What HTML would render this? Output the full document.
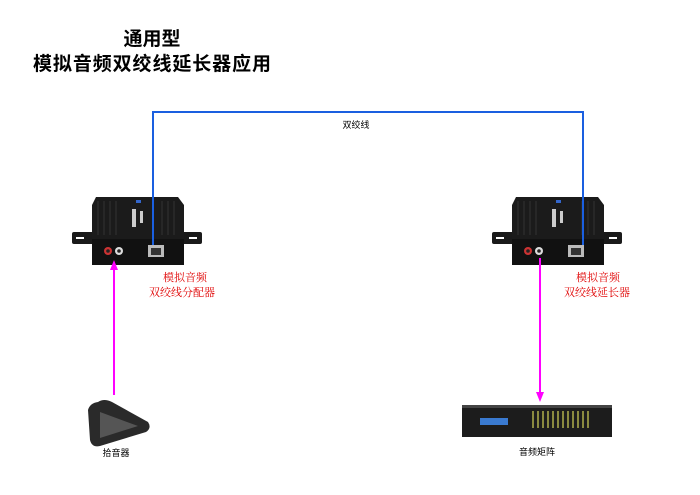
<!DOCTYPE html>
<html><head><meta charset="utf-8"><style>
html,body{margin:0;padding:0;background:#fff;width:700px;height:495px;overflow:hidden}
svg{display:block}
text{font-family:"Liberation Sans","Noto Sans CJK SC",sans-serif}
.r{font-family:"Liberation Serif","Noto Serif CJK SC",serif}
</style></head><body>
<svg width="700" height="495" viewBox="0 0 700 495" xmlns="http://www.w3.org/2000/svg">
<defs>
<g id="dev">
  <rect x="-20" y="37" width="130" height="12" rx="2" fill="#1a1a1a"/>
  <rect x="-16" y="42" width="8" height="2" fill="#fff"/>
  <rect x="97" y="42" width="8" height="2" fill="#fff"/>
  <path d="M4 2 L86 2 L92 10 L92 70 L0 70 L0 10 Z" fill="#1b1b1b"/>
  <g stroke="#333" stroke-width="1">
    <line x1="6" y1="6" x2="6" y2="40"/><line x1="12" y1="6" x2="12" y2="40"/><line x1="18" y1="6" x2="18" y2="40"/><line x1="24" y1="6" x2="24" y2="40"/><line x1="70" y1="6" x2="70" y2="40"/><line x1="76" y1="6" x2="76" y2="40"/><line x1="82" y1="6" x2="82" y2="40"/>
  </g>
  <rect x="40" y="14" width="4" height="18" fill="#ccc"/>
  <rect x="48" y="16" width="3" height="12" fill="#ccc"/>
  <rect x="44" y="5" width="5" height="3" fill="#36c"/>
  <rect x="0" y="44" width="92" height="26" fill="#111"/>
  <circle cx="16" cy="56" r="4" fill="#c33"/><circle cx="16" cy="56" r="1.8" fill="#222"/>
  <circle cx="27" cy="56" r="4" fill="#ddd"/><circle cx="27" cy="56" r="1.8" fill="#222"/>
  <rect x="56" y="50" width="16" height="12" fill="#bbb"/><rect x="59" y="53" width="10" height="7" fill="#333"/>
</g>
</defs>
<text x="152" y="45" font-size="19" font-weight="bold" text-anchor="middle">通用型</text>
<text x="152" y="70" font-size="19" font-weight="bold" text-anchor="middle" textLength="238">模拟音频双绞线延长器应用</text>

<use href="#dev" x="92" y="195"/>
<use href="#dev" x="512" y="195"/>

<polyline points="153,245 153,112 583,112 583,245" fill="none" stroke="#1a5fe0" stroke-width="2"/>
<text x="356" y="128" font-size="9" text-anchor="middle">双绞线</text>

<line x1="114" y1="395" x2="114" y2="268" stroke="#f0f" stroke-width="2"/>
<polygon points="114,260 110,270 118,270" fill="#f0f"/>
<line x1="540" y1="258" x2="540" y2="394" stroke="#f0f" stroke-width="2"/>
<polygon points="540,402 536,392 544,392" fill="#f0f"/>

<text class="r" x="185" y="281" font-size="11" fill="#e00000" text-anchor="middle">模拟音频</text>
<text class="r" x="182" y="296" font-size="11" fill="#e00000" text-anchor="middle">双绞线分配器</text>
<text class="r" x="598" y="281" font-size="11" fill="#e00000" text-anchor="middle">模拟音频</text>
<text class="r" x="597" y="296" font-size="11" fill="#e00000" text-anchor="middle">双绞线延长器</text>

<path d="M98 402 Q104 398 112 402 L148 422 Q152 428 146 432 L100 446 Q92 448 90 440 L88 410 Q90 403 98 402 Z" fill="#2a2a2a"/>
<path d="M100 412 L138 426 L100 438 Z" fill="#555"/>
<text x="116" y="456" font-size="9" text-anchor="middle">拾音器</text>

<rect x="462" y="405" width="150" height="32" fill="#1c1c1c"/>
<rect x="462" y="405" width="150" height="3" fill="#444"/>
<rect x="480" y="418" width="28" height="7" fill="#3a7ad0"/>
<g fill="#8a8a40">
<rect x="532" y="411" width="2" height="17"/><rect x="537" y="411" width="2" height="17"/><rect x="542" y="411" width="2" height="17"/><rect x="547" y="411" width="2" height="17"/><rect x="552" y="411" width="2" height="17"/><rect x="557" y="411" width="2" height="17"/><rect x="562" y="411" width="2" height="17"/><rect x="567" y="411" width="2" height="17"/><rect x="572" y="411" width="2" height="17"/><rect x="577" y="411" width="2" height="17"/><rect x="582" y="411" width="2" height="17"/><rect x="587" y="411" width="2" height="17"/>
</g>
<text x="537" y="455" font-size="9" text-anchor="middle">音频矩阵</text>
</svg>
</body></html>
